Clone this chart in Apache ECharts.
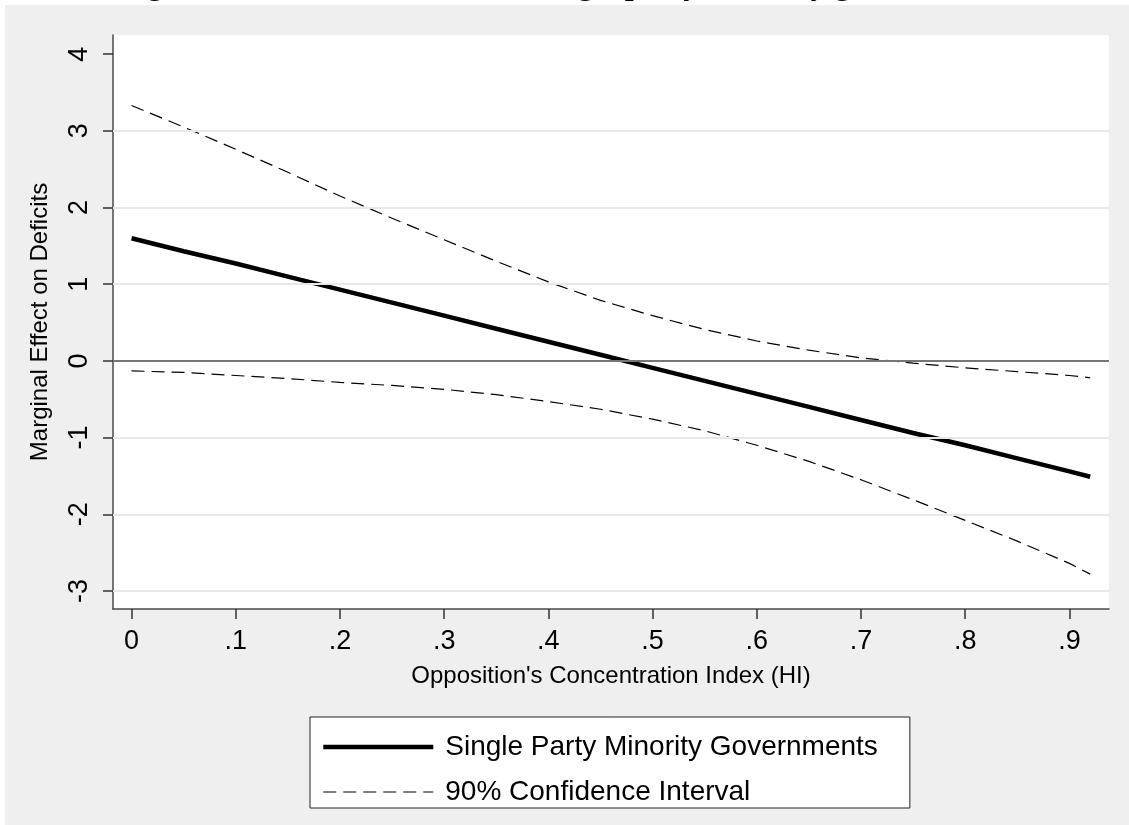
<!DOCTYPE html>
<html><head><meta charset="utf-8">
<script src="https://cdn.jsdelivr.net/npm/echarts@6/dist/echarts.min.js"></script>
<style>
html,body{margin:0;padding:0;background:#fff;overflow:hidden;}
#bg{position:absolute;left:5px;top:5px;width:1124px;height:820px;background:#efefef;}
#chart{position:absolute;left:0;top:0;width:1129px;height:825px;}
</style></head><body>
<div id="bg"></div><div id="chart"></div>
<script>
// Data
const xValues   = [0, 0.05, 0.1, 0.15, 0.2, 0.25, 0.3, 0.35, 0.4, 0.45, 0.5, 0.55, 0.6, 0.65, 0.7, 0.75, 0.8, 0.85, 0.9, 0.92];
const effect    = [1.60, 1.43, 1.27, 1.10, 0.93, 0.76, 0.59, 0.42, 0.25, 0.08, -0.09, -0.26, -0.43, -0.60, -0.77, -0.94, -1.10, -1.27, -1.44, -1.51];
const upperCI   = [3.33, 3.05, 2.76, 2.46, 2.15, 1.86, 1.58, 1.30, 1.03, 0.79, 0.59, 0.41, 0.26, 0.14, 0.04, -0.03, -0.09, -0.14, -0.19, -0.22];
const lowerCI   = [-0.13, -0.15, -0.19, -0.23, -0.28, -0.32, -0.37, -0.44, -0.53, -0.63, -0.76, -0.91, -1.10, -1.31, -1.55, -1.81, -2.08, -2.35, -2.64, -2.78];
const xTicks    = [0, 0.1, 0.2, 0.3, 0.4, 0.5, 0.6, 0.7, 0.8, 0.9];
const xTickText = ['0', '.1', '.2', '.3', '.4', '.5', '.6', '.7', '.8', '.9'];
const yTicks    = [-3, -2, -1, 0, 1, 2, 3, 4];
const gridLinesY = [-3, -2, -1, 1, 2, 3];
const seriesNames = ['Single Party Minority Governments', '90% Confidence Interval'];
const titleText = 'Figure 4: Conditional effect of single party minority governments';

const FONT = 'Liberation Sans, Arial, sans-serif';
const pairs = arr => xValues.map((x, i) => [x, arr[i]]);

const chart = echarts.init(document.getElementById('chart'), null, {renderer: 'canvas'});
chart.setOption({
  animation: false,
  backgroundColor: 'transparent',
  title: {
    text: titleText, left: 'center', top: -30, padding: 0,
    textStyle: {fontFamily: 'Liberation Serif, Times New Roman, serif', fontWeight: 'bold', fontSize: 32, color: '#000'}
  },
  grid: {left: 113, top: 35, right: 20, bottom: 216, show: true, backgroundColor: '#fff', borderWidth: 0},
  xAxis: {
    type: 'value', min: -0.0178, max: 0.938,
    axisLine: {show: true, onZero: false, lineStyle: {color: '#4a4a4a', width: 1.5}},
    axisTick: {show: true, customValues: xTicks, length: 10, lineStyle: {color: '#333', width: 1.5}},
    axisLabel: {customValues: xTicks, fontSize: 27, color: '#000', fontFamily: FONT, margin: 19,
      formatter: v => { const i = xTicks.findIndex(t => Math.abs(t - v) < 1e-6); return i >= 0 ? xTickText[i] : ''; }},
    splitLine: {show: false},
    name: "Opposition's Concentration Index (HI)", nameLocation: 'middle', nameGap: 55,
    nameTextStyle: {fontSize: 24, color: '#000', fontFamily: FONT}
  },
  yAxis: {
    type: 'value', min: -3.235, max: 4.25,
    axisLine: {show: true, onZero: false, lineStyle: {color: '#4a4a4a', width: 1.5}},
    axisTick: {show: true, customValues: yTicks, length: 10, lineStyle: {color: '#333', width: 1.5}},
    axisLabel: {customValues: yTicks, rotate: 90, fontSize: 27, color: '#000', fontFamily: FONT, margin: 20,
      formatter: v => String(Math.round(v))},
    splitLine: {show: false},
    name: 'Marginal Effect on Deficits', nameLocation: 'middle', nameGap: 61,
    nameTextStyle: {fontSize: 24, color: '#000', fontFamily: FONT}
  },
  legend: {
    data: seriesNames,
    orient: 'vertical', left: 310, top: 717,
    itemWidth: 110, itemHeight: 28, itemGap: 17,
    padding: [16, 32, 2, 11],
    borderColor: '#222', borderWidth: 1, backgroundColor: '#fff',
    selectedMode: false,
    lineStyle: {width: 'inherit'},
    itemStyle: {opacity: 0},
    textStyle: {fontSize: 28, color: '#000', fontFamily: FONT, padding: [0, 0, 0, 7]}
  },
  series: [
    {
      name: 'grid', type: 'line', data: [], z: 1, silent: true,
      markLine: {
        silent: true, symbol: 'none', label: {show: false},
        lineStyle: {color: '#e8e8e8', width: 2, type: 'solid'},
        emphasis: {disabled: true},
        data: gridLinesY.map(v => ({yAxis: v}))
      }
    },
    {
      name: 'zero', type: 'line', data: [], z: 2, silent: true,
      markLine: {
        silent: true, symbol: 'none', label: {show: false},
        lineStyle: {color: '#767676', width: 2, type: 'solid'},
        emphasis: {disabled: true},
        data: [{yAxis: 0}]
      }
    },
    {
      name: seriesNames[1], type: 'line', data: pairs(upperCI), symbol: 'none', z: 3,
      lineStyle: {color: '#000', width: 1.2, type: [13, 7]}, itemStyle: {color: '#000'}
    },
    {
      name: seriesNames[1], type: 'line', data: pairs(lowerCI), symbol: 'none', z: 3,
      lineStyle: {color: '#000', width: 1.2, type: [13, 7]}, itemStyle: {color: '#000'}
    },
    {
      name: seriesNames[0], type: 'line', data: pairs(effect), symbol: 'none', z: 4,
      lineStyle: {color: '#000', width: 4.5}, itemStyle: {color: '#000'}
    }
  ]
});
</script>
</body></html>
